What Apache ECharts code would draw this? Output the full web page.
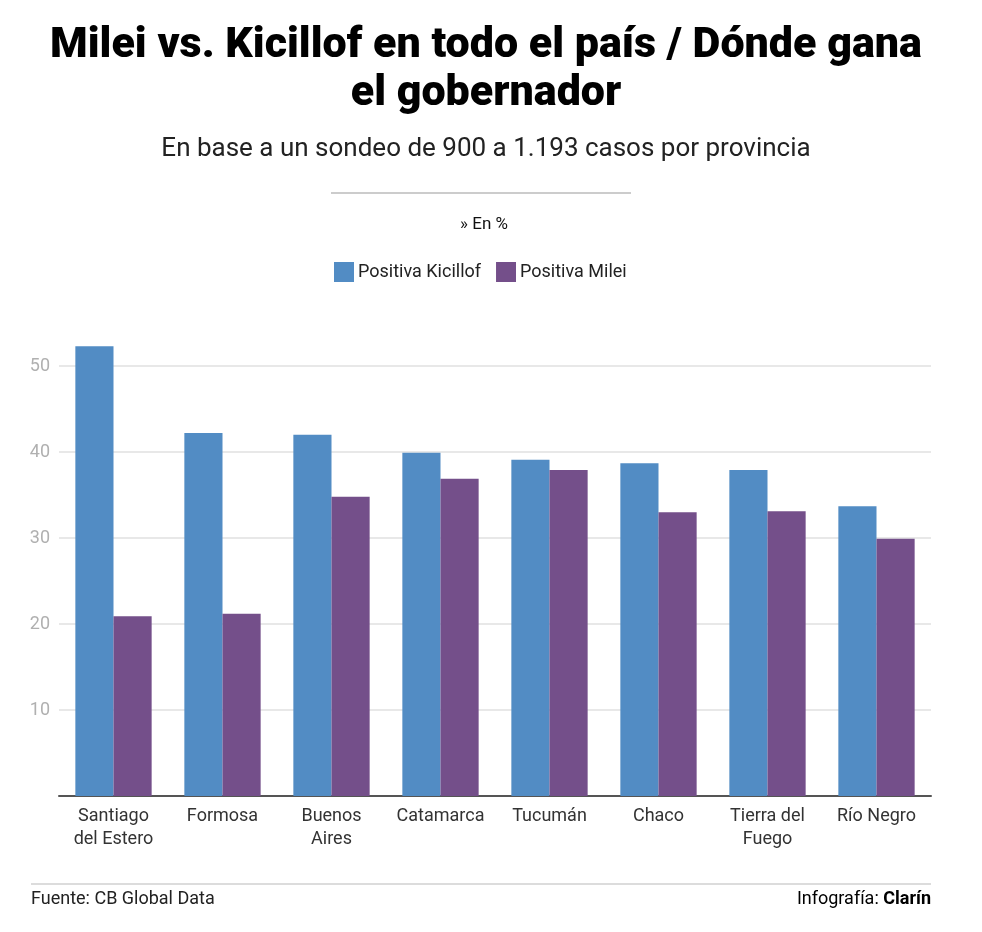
<!DOCTYPE html>
<html>
<head>
<meta charset="utf-8">
<script src="https://cdn.jsdelivr.net/npm/echarts@6/dist/echarts.min.js"></script>
<style>
  html, body { margin: 0; padding: 0; background: #fff; }
  #chart { width: 982px; height: 932px; }
</style>
</head>
<body>
<div id="chart"></div>
<script>
// provincias
const provincias = ['Santiago\ndel Estero', 'Formosa', 'Buenos\nAires', 'Catamarca', 'Tucumán', 'Chaco', 'Tierra del\nFuego', 'Río Negro']
// valores en %
const positivaKicillof = [52.3, 42.2, 42.0, 39.9, 39.1, 38.7, 37.9, 33.7]
const positivaMilei = [20.9, 21.2, 34.8, 36.9, 37.9, 33.0, 33.1, 29.9]
const ticksY = [10, 20, 30, 40, 50]

const FONT = 'Roboto, "Noto Sans", sans-serif'
const CX = 481 // centro del encabezado

const chart = echarts.init(document.getElementById('chart'))

const option = {
  backgroundColor: '#fff',
  textStyle: { fontFamily: FONT },
  title: [
    {
      text: 'Milei vs. Kicillof en todo el país / Dónde gana\nel gobernador',
      left: CX,
      textAlign: 'center',
      top: 17,
      textStyle: {
        fontFamily: 'Roboto, sans-serif',
        fontWeight: 900,
        fontSize: 43,
        lineHeight: 48,
        color: '#000',
        align: 'center'
      }
    },
    {
      text: 'En base a un sondeo de 900 a 1.193 casos por provincia',
      left: CX,
      textAlign: 'center',
      top: 131,
      textStyle: { fontFamily: FONT, fontWeight: 'normal', fontSize: 26, color: '#222' }
    },
    {
      text: '» En %',
      left: CX - 2,
      textAlign: 'center',
      top: 211,
      textStyle: { fontFamily: FONT, fontWeight: 'normal', fontSize: 17, color: '#111' }
    }
  ],
  legend: {
    top: 262,
    left: 334,
    padding: 0,
    itemWidth: 20,
    itemHeight: 20,
    itemGap: 15,
    icon: 'rect',
    textStyle: { fontFamily: FONT, fontSize: 18, color: '#222', padding: [0, 0, 0, -1] },
    data: ['Positiva Kicillof', 'Positiva Milei']
  },
  grid: {
    left: 59,
    right: 51,
    top: 366,
    bottom: 136,
    containLabel: false
  },
  xAxis: {
    type: 'category',
    data: provincias,
    axisLine: { lineStyle: { color: '#555', width: 2 } },
    axisTick: { show: false },
    axisLabel: {
      margin: 9,
      fontFamily: FONT,
      fontSize: 18,
      lineHeight: 23,
      color: '#333',
      interval: 0
    }
  },
  yAxis: {
    type: 'value',
    min: 0,
    max: ticksY[ticksY.length - 1],
    interval: 10,
    axisLine: { show: false },
    axisTick: { show: false },
    splitLine: { lineStyle: { color: '#e8e8e8', width: 2 } },
    axisLabel: {
      margin: 9,
      showMinLabel: false,
      fontFamily: FONT,
      fontSize: 18,
      color: '#b0b0b0'
    }
  },
  series: [
    {
      name: 'Positiva Kicillof',
      type: 'bar',
      data: positivaKicillof,
      clip: false,
      barGap: '0%',
      barCategoryGap: '30%',
      itemStyle: { color: '#528cc4' }
    },
    {
      name: 'Positiva Milei',
      type: 'bar',
      data: positivaMilei,
      clip: false,
      itemStyle: { color: '#744f8a' }
    }
  ],
  graphic: [
    {
      type: 'line',
      shape: { x1: 331, y1: 193, x2: 631, y2: 193 },
      style: { stroke: '#ccc', lineWidth: 2 }
    },
    {
      type: 'line',
      shape: { x1: 31, y1: 884, x2: 931, y2: 884 },
      style: { stroke: '#d0d0d0', lineWidth: 1.5 }
    },
    {
      type: 'text',
      left: 31,
      top: 890,
      style: { text: 'Fuente: CB Global Data', font: '18px ' + FONT, fill: '#222' }
    },
    {
      type: 'text',
      right: 51,
      top: 890,
      style: {
        text: '{a|Infografía: }{b|Clarín}',
        rich: {
          a: { fontFamily: FONT, fontSize: 18, color: '#222' },
          b: { fontFamily: FONT, fontSize: 18, fontWeight: 'bold', color: '#000' }
        }
      }
    }
  ]
}

chart.setOption(option)
</script>
</body>
</html>
